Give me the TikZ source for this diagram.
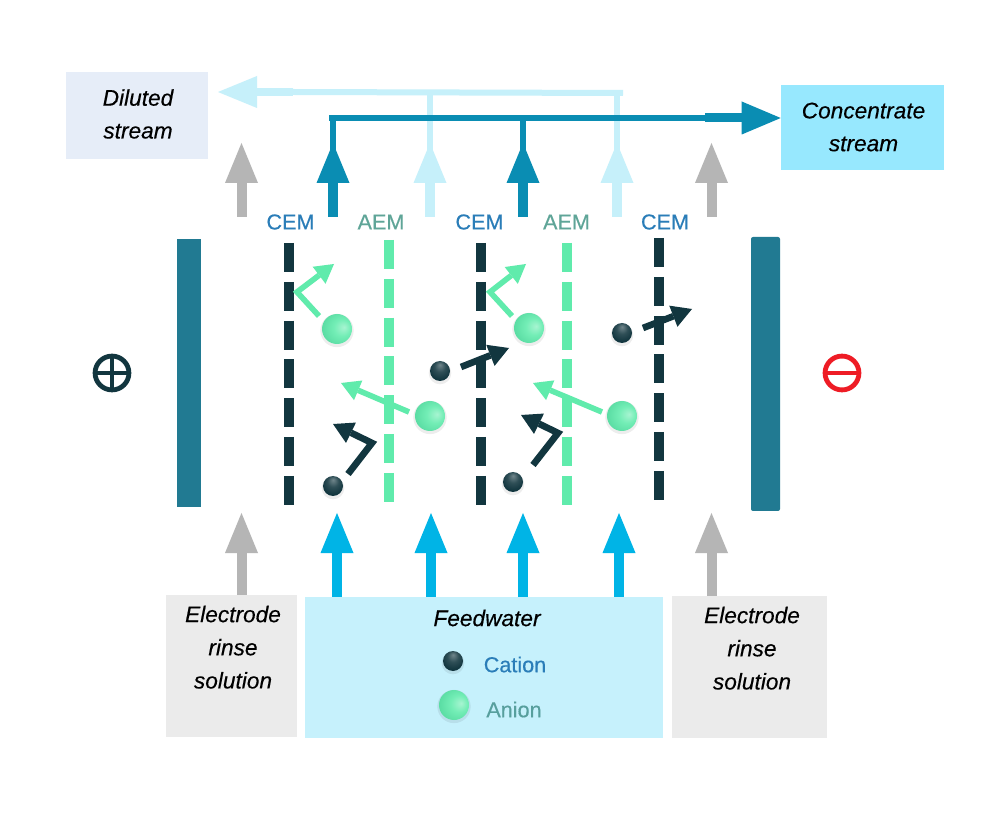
\documentclass[tikz,border=0pt]{standalone}
\usepackage{fontspec}
\setmainfont{Liberation Sans}[ItalicFeatures={FakeBold=0.3}]
\newfontfamily\labelfont{Liberation Sans}[FakeBold=0.45]
\usetikzlibrary{arrows.meta,calc}
\definecolor{concflow}{HTML}{0A8DB3}
\definecolor{paleflow}{HTML}{C6F0FA}
\definecolor{grayflow}{HTML}{B5B5B5}
\definecolor{cyanflow}{HTML}{00B4E6}
\definecolor{darkion}{HTML}{12363F}
\definecolor{greenion}{HTML}{60EBAC}
\definecolor{electrodecol}{HTML}{217A92}
\definecolor{cemtext}{HTML}{2A7DB8}
\definecolor{aemtext}{HTML}{5FA598}
\definecolor{dilbox}{HTML}{E6EDF8}
\definecolor{concbox}{HTML}{97E8FE}
\definecolor{rinsebox}{HTML}{EBEBEB}
\definecolor{feedbox}{HTML}{C6F1FC}
\definecolor{minusred}{HTML}{EE1C25}
\pgfdeclareradialshading{anionball}{\pgfpoint{12bp}{3bp}}{
  color(0bp)=(greenion!55!white); color(14bp)=(greenion!88!white); color(30bp)=(greenion!92!darkion); color(50bp)=(greenion!78!darkion)}
\pgfdeclareradialshading{cationball}{\pgfpoint{0bp}{16bp}}{
  color(0bp)=(darkion!60!white); color(14bp)=(darkion!88!white); color(28bp)=(darkion); color(50bp)=(darkion)}
\tikzset{
  x=0.75pt,y=-0.75pt,
  flow/.style={line width=7.5pt,-{Triangle[length=30pt,width=24.75pt,line width=0pt]}},
  plate/.style 2 args={rectangle,inner sep=0pt,minimum width=#1*0.75pt,minimum height=#2*0.75pt},
  boxtext/.style={font=\fontsize{17}{24.6}\selectfont\itshape,align=center,inner sep=0pt},
  memlabel/.style={font=\labelfont\fontsize{16.2}{20}\selectfont,inner sep=0pt},
  cem/.style={draw=darkion,line width=7.5pt,dash pattern=on 21.75pt off 7.35pt},
  aem/.style={draw=greenion,line width=7.5pt,dash pattern=on 21.75pt off 7.35pt},
  hopdark/.style={draw=darkion,line width=5pt,miter limit=10,-{Triangle[length=15pt,width=17pt,line width=0pt]}},
  hopgreen/.style={draw=greenion,line width=4.2pt,miter limit=10,-{Triangle[length=14pt,width=16pt,line width=0pt]}},
  anion/.style={circle,inner sep=0pt,minimum size=22.5pt,shading=anionball},
  cation/.style={circle,inner sep=0pt,minimum size=15pt,shading=cationball},
  glow/.style={fill=black,opacity=0.07},
}
\begin{document}
\begin{tikzpicture}
\useasboundingbox (0,0) rectangle (1000,823);
\fill[white] (0,0) rectangle (1000,823);
% boxes
\node[plate={142}{87},fill=dilbox] (dil) at (137,115.5) {};
\node[plate={163}{85},fill=concbox] (conc) at (862.5,128) {};
\node[plate={131}{142},fill=rinsebox] (rinseL) at (231.5,666) {};
\node[plate={358}{141},fill=feedbox] (feed) at (484,667.5) {};
\node[plate={155}{142},fill=rinsebox] (rinseR) at (749.5,667) {};
% box texts
\node[boxtext] (diltext) at (138,114) {Diluted\\stream};
\node[boxtext] (conctext) at (863.5,127) {Concentrate\\stream};
\node[boxtext,anchor=north] (rinseLtext) at (233,605.5) {Electrode\\[0.25pt]rinse\\[0.25pt]solution};
\node[boxtext,anchor=north] (rinseRtext) at (752,606.5) {Electrode\\[0.25pt]rinse\\[0.25pt]solution};
\node[boxtext] (feedtext) at (487,618) {Feedwater};
\node[memlabel,text=cemtext] (cationlabel) at (515,664.5) {Cation};
\node[memlabel,text=aemtext!85!cemtext] (anionlabel) at (514,709.5) {Anion};
% electrodes
\node[plate={24}{268},fill=electrodecol] (anode) at (189,373) {};
\node[plate={29}{274},fill=electrodecol,rounded corners=1.5pt] (cathode) at (765.5,374) {};
% poles
\node[circle,draw=darkion,line width=3.6pt,minimum size=25.4pt,inner sep=0pt] (plus) at (112,373) {};
\draw[darkion,line width=3.4pt] (plus.west) -- (plus.east);
\draw[darkion,line width=3.4pt] (plus.north) -- (plus.south);
\node[circle,draw=minusred,line width=3.6pt,minimum size=25.4pt,inner sep=0pt] (minus) at (842,373) {};
\draw[minusred,line width=3.4pt] (minus.west) -- (minus.east);
% pale stream
\coordinate (paleA) at (430,150);
\coordinate (paleB) at (617,150);
\coordinate (paleAtop) at (430,93);
\coordinate (paleBtop) at (617,93);
\coordinate (paleEnd) at (623,93);
\coordinate (paleThick) at (293,92);
\coordinate (paleTip) at (218,92);
\draw[paleflow,line width=4.5pt] (paleA) -- (paleAtop);
\draw[paleflow,line width=4.5pt] (paleB) -- (paleBtop);
\draw[paleflow,line width=4.5pt] (paleEnd) -- (paleThick);
\draw[paleflow,line width=6pt,-{Triangle[length=29.25pt,width=24pt,line width=0pt]}] (paleThick) -- (paleTip);
\foreach \x/\n in {430/a,617/b}{
  \coordinate (pb\n) at (\x,217);
  \coordinate (pt\n) at (\x,143);
  \draw[flow,paleflow] (pb\n) -- (pt\n);
}
% concentrate stream
\coordinate (concA) at (333,150);
\coordinate (concB) at (523,150);
\coordinate (concAtop) at (333,118);
\coordinate (concBtop) at (523,118);
\coordinate (concStart) at (329,118);
\coordinate (concThick) at (705,118);
\draw[concflow,line width=5pt] (concA) -- (concAtop);
\draw[concflow,line width=5pt] (concB) -- (concBtop);
\draw[concflow,line width=5pt] (concStart) -- (concThick);
\draw[concflow,line width=6.75pt,-{Triangle[length=29.25pt,width=24.75pt,line width=0pt]}] (concThick) -- (conc.west |- concThick);
\foreach \x/\n in {333/a,523/b}{
  \coordinate (cb\n) at (\x,217);
  \coordinate (ct\n) at (\x,143);
  \draw[flow,concflow] (cb\n) -- (ct\n);
}
% electrode rinse out
\foreach \x/\n in {241.5/a,711.5/b}{
  \coordinate (gb\n) at (\x,217);
  \coordinate (gt\n) at (\x,143);
  \draw[flow,grayflow] (gb\n) -- (gt\n);
}
% inflows
\coordinate (inA) at (241.5,513);
\coordinate (inB) at (337,513);
\coordinate (inC) at (431,513);
\coordinate (inD) at (523,513);
\coordinate (inE) at (619,513);
\coordinate (inF) at (711.5,513);
\draw[flow,grayflow] (inA |- rinseL.north) -- (inA);
\draw[flow,cyanflow] (inB |- feed.north) -- (inB);
\draw[flow,cyanflow] (inC |- feed.north) -- (inC);
\draw[flow,cyanflow] (inD |- feed.north) -- (inD);
\draw[flow,cyanflow] (inE |- feed.north) -- (inE);
\draw[flow,grayflow] (inF |- rinseR.north) -- (inF);
% membrane labels
\node[memlabel,text=cemtext] (lab1) at (290.5,222) {CEM};
\node[memlabel,text=aemtext] (lab2) at (381,222) {AEM};
\node[memlabel,text=cemtext] (lab3) at (479.5,222) {CEM};
\node[memlabel,text=aemtext] (lab4) at (566.5,222) {AEM};
\node[memlabel,text=cemtext] (lab5) at (665,222) {CEM};
% membranes
\coordinate (m1a) at (289,243);  \coordinate (m1b) at (289,505);
\coordinate (m2a) at (389,240);  \coordinate (m2b) at (389,502);
\coordinate (m3a) at (481,243);  \coordinate (m3b) at (481,505);
\coordinate (m4a) at (567,243);  \coordinate (m4b) at (567,505);
\coordinate (m5a) at (659,238);  \coordinate (m5b) at (659,500);
\draw[cem] (m1a) -- (m1b);
\draw[aem] (m2a) -- (m2b);
\draw[cem] (m3a) -- (m3b);
\draw[aem] (m4a) -- (m4b);
\draw[cem] (m5a) -- (m5b);
% hops, green
\coordinate (g1a) at (319,316); \coordinate (g1b) at (297,292); \coordinate (g1c) at (334,264);
\coordinate (g2a) at (512,316); \coordinate (g2b) at (490,292); \coordinate (g2c) at (526,264);
\coordinate (g3a) at (409,412); \coordinate (g3c) at (341,383);
\coordinate (g4a) at (602,412); \coordinate (g4c) at (533,383);
\draw[hopgreen] (g1a) -- (g1b) -- (g1c);
\draw[hopgreen] (g2a) -- (g2b) -- (g2c);
\draw[hopgreen] (g3a) -- (g3c);
\draw[hopgreen] (g4a) -- (g4c);
% hops, dark
\coordinate (d1a) at (348,474); \coordinate (d1b) at (372,443); \coordinate (d1c) at (333,424);
\coordinate (d2a) at (533,465); \coordinate (d2b) at (558,433); \coordinate (d2c) at (521,415);
\coordinate (d3a) at (461,367); \coordinate (d3c) at (509,348);
\coordinate (d4a) at (643,328); \coordinate (d4c) at (692,309);
\draw[hopdark] (d1a) -- (d1b) -- (d1c);
\draw[hopdark] (d2a) -- (d2b) -- (d2c);
\draw[hopdark] (d3a) -- (d3c);
\draw[hopdark] (d4a) -- (d4c);
% ions
\foreach \x/\y/\n in {337/329/a,529/328/b,430/416/c,622/416/d,454/705/e}{
  \fill[glow] (\x,\y+1.5) circle (12.5pt);
  \node[anion] (an\n) at (\x,\y) {};
}
\foreach \x/\y/\n in {333/486/a,513/482/b,440/371/c,622/333/d,453/661/e}{
  \fill[glow] (\x,\y+2) circle (8.5pt);
  \node[cation] (ca\n) at (\x,\y) {};
}
\end{tikzpicture}
\end{document}
